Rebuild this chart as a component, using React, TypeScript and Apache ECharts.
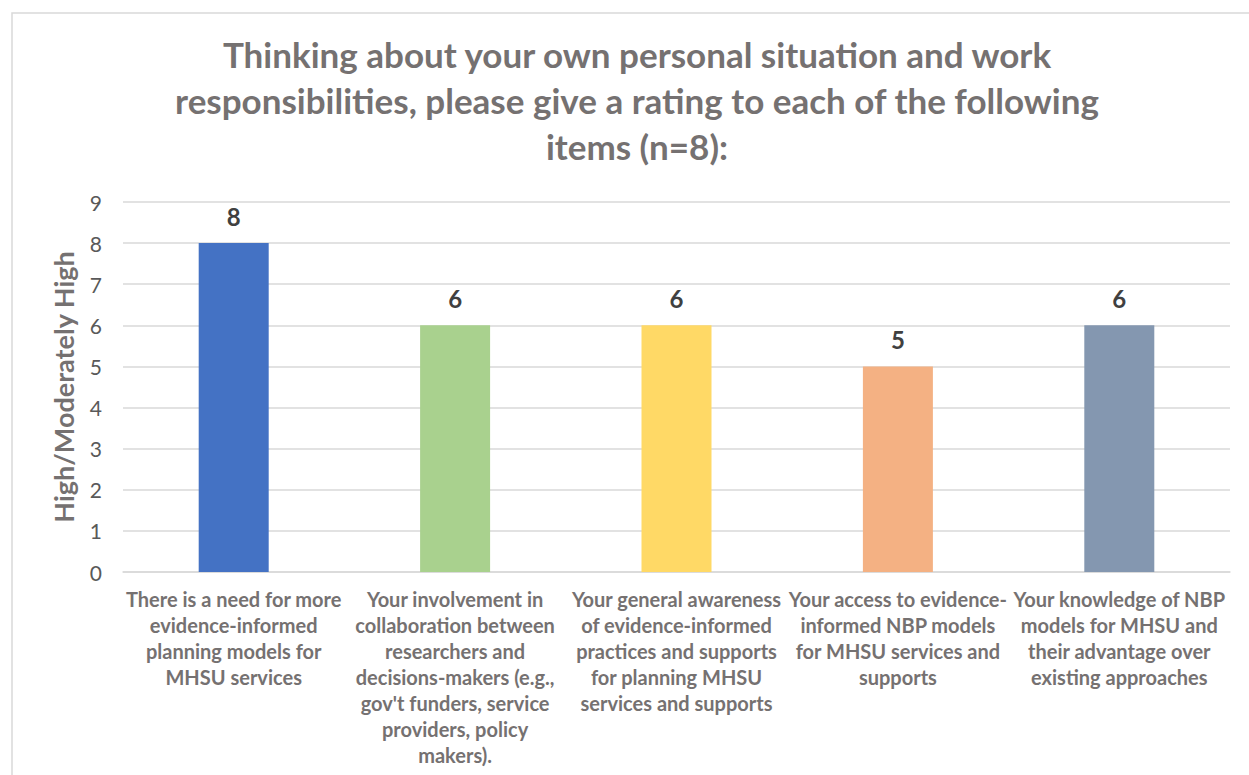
import React, { useEffect, useRef } from "react";
import * as echarts from "echarts";

const titleText =
  "Thinking about your own personal situation and work\nresponsibilities, please give a rating to each of the following\nitems (n=8):";
const yAxisName = "High/Moderately High";
const categories = [
  "There is a need for more\nevidence-informed\nplanning models for\nMHSU services",
  "Your involvement in\ncollaboration between\nresearchers and\ndecisions-makers (e.g.,\ngov't funders, service\nproviders, policy\nmakers).",
  "Your general awareness\nof evidence-informed\npractices and supports\nfor planning MHSU\nservices and supports",
  "Your access to evidence-\ninformed NBP models\nfor MHSU services and\nsupports",
  "Your knowledge of NBP\nmodels for MHSU and\ntheir advantage over\nexisting approaches",
];
const values = [8, 6, 6, 5, 6];
const barColors = ["#4472C4", "#A9D18E", "#FFD966", "#F4B183", "#8497B0"];
const yTicks = [0, 1, 2, 3, 4, 5, 6, 7, 8, 9];

export default function App() {
  const ref = useRef<HTMLDivElement>(null);
  useEffect(() => {
    if (!ref.current) return;
    const chart = echarts.init(ref.current, null, { renderer: "svg" });
    chart.setOption({
      animation: false,
      backgroundColor: "#ffffff",
      textStyle: { fontFamily: "Lato" },
      graphic: [
        {
          type: "rect",
          shape: { x: 12, y: 13, width: 1300, height: 800 },
          style: { fill: "none", stroke: "#d9d9d9", lineWidth: 1.5 },
          silent: true,
        },
        {
          type: "text",
          x: 637,
          y: 31,
          style: {
            text: titleText,
            textAlign: "center",
            fontFamily: "Lato",
            fontWeight: "bold",
            fontSize: 35,
            lineHeight: 46,
            fill: "#757171",
          },
        },
      ],
      grid: { left: 123, right: 19, top: 202, bottom: 203 },
      xAxis: {
        type: "category",
        data: categories,
        axisLine: { lineStyle: { color: "#d9d9d9", width: 1.5 } },
        axisTick: { show: false },
        axisLabel: {
          interval: 0,
          color: "#757171",
          fontFamily: "Lato",
          fontWeight: "bold",
          fontSize: 20,
          lineHeight: 26,
          margin: 14,
        },
      },
      yAxis: {
        type: "value",
        min: yTicks[0],
        max: yTicks[yTicks.length - 1],
        interval: 1,
        name: yAxisName,
        nameLocation: "middle",
        nameGap: 46,
        nameTextStyle: {
          color: "#757171",
          fontFamily: "Lato",
          fontWeight: "bold",
          fontSize: 27,
        },
        axisLabel: { color: "#595959", fontSize: 21, fontFamily: "Lato", margin: 21 },
        splitLine: { lineStyle: { color: "#d9d9d9", width: 1.5 } },
        axisLine: { show: false },
        axisTick: { show: false },
      },
      series: [
        {
          type: "bar",
          barWidth: 70,
          data: values.map((v, i) => ({ value: v, itemStyle: { color: barColors[i] } })),
          label: {
            show: true,
            position: "top",
            distance: 15,
            color: "#404040",
            fontFamily: "Lato",
            fontWeight: "bold",
            fontSize: 24,
          },
        },
      ],
    });
    return () => chart.dispose();
  }, []);
  return (
    <div
      ref={ref}
      style={{ position: "fixed", left: 0, top: 0, width: 1249, height: 775 }}
    />
  );
}
